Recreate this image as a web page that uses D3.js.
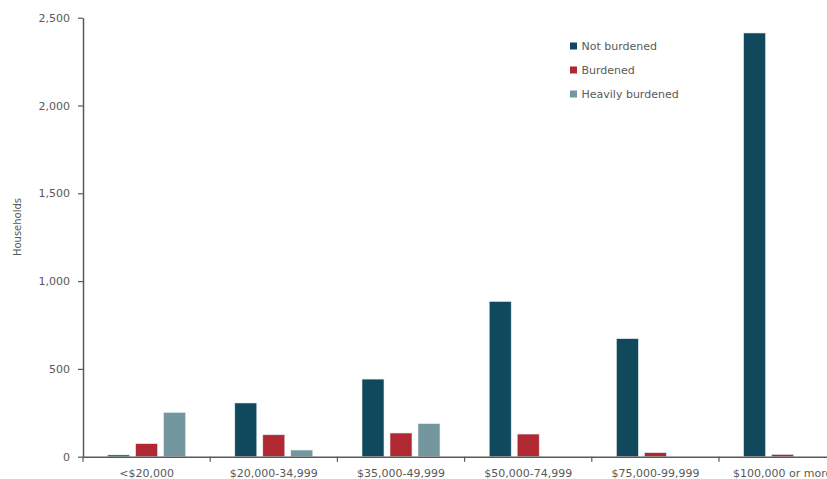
<!DOCTYPE html>
<html><head><meta charset="utf-8">
<script src="https://cdn.jsdelivr.net/npm/d3@7"></script>
<style>html,body{margin:0;padding:0;background:#fff;overflow:hidden}</style>
</head><body>
<svg id="c" width="827" height="479"></svg>
<script>
const categories = ["<$20,000","$20,000-34,999","$35,000-49,999","$50,000-74,999","$75,000-99,999","$100,000 or more"];
const seriesNames = ["Not burdened","Burdened","Heavily burdened"];
const notBurdened = [10, 306, 442, 884, 672, 2413];
const burdened = [74, 125, 135, 129, 23, 13];
const heavilyBurdened = [252, 38, 188, 0, 0, 0];
const yTicks = [0, 500, 1000, 1500, 2000, 2500];
const colors = ["#11495c", "#b02832", "#73969f"];

(function () {
const values = [notBurdened, burdened, heavilyBurdened];
const svg = d3.select("#c");
const textCol = "#595959";
const font = "DejaVu Sans, Verdana, sans-serif";

const mLeft = 83, mBottom = 456.7, mTop = 17.7;
const x0 = d3.scaleBand().domain(categories).range([mLeft, mLeft + 6 * 127.2]).paddingInner(0).paddingOuter(0);
const x1 = d3.scaleBand().domain(seriesNames).range([-39, 39]).paddingInner(6 / 28).paddingOuter(0);
const y = d3.scaleLinear().domain([0, 2500]).range([mBottom, mTop]);

// bars
categories.forEach((c, i) => {
  const cx = x0(c) + x0.bandwidth() / 2;
  seriesNames.forEach((s, j) => {
    const v = values[j][i];
    if (v <= 0) return;
    svg.append("rect")
      .attr("x", cx + x1(s))
      .attr("y", y(v))
      .attr("width", x1.bandwidth())
      .attr("height", y(0) - y(v))
      .attr("fill", colors[j])
      .attr("stroke", "#e4ecee").attr("stroke-width", 0.6);
  });
});

// y axis
const ya = svg.append("g").attr("transform", `translate(${mLeft},0)`)
  .call(d3.axisLeft(y).tickValues(yTicks).tickFormat(d3.format(",")).tickSize(5).tickSizeOuter(0).tickPadding(8));
ya.select(".domain").attr("stroke", textCol).attr("stroke-width", 1.5);
ya.selectAll(".tick line").attr("stroke", textCol).attr("stroke-width", 1.2);
ya.selectAll("text").attr("fill", textCol).style("font-family", font).style("font-size", "11px");

// x axis
const xa = svg.append("g").attr("transform", `translate(0,${mBottom})`)
  .call(d3.axisBottom(x0).tickSize(0).tickSizeOuter(0).tickPadding(12.5));
xa.select(".domain").attr("stroke", textCol).attr("stroke-width", 1.5);
xa.selectAll("text").attr("fill", textCol).style("font-family", font).style("font-size", "11px");
const bounds = categories.map(c => x0(c)).concat([x0.range()[1]]);
xa.selectAll(".btick").data(bounds).enter().append("line")
  .attr("x1", d => d).attr("x2", d => d).attr("y1", 0).attr("y2", 5)
  .attr("stroke", textCol).attr("stroke-width", 1.2);

// y label
svg.append("text").attr("transform", "translate(21,227) rotate(-90)")
  .attr("text-anchor", "middle").attr("fill", textCol)
  .style("font-family", font).style("font-size", "10px").text("Households");

// legend
const lg = svg.append("g").attr("transform", "translate(570,46)");
seriesNames.forEach((s, j) => {
  const g = lg.append("g").attr("transform", `translate(0,${j * 24})`);
  g.append("rect").attr("x", 0).attr("y", -3.5).attr("width", 7).attr("height", 7).attr("fill", colors[j]);
  g.append("text").attr("x", 11.5).attr("y", 4).attr("fill", textCol)
    .style("font-family", font).style("font-size", "11px").text(s);
});
})();
</script>
</body></html>
